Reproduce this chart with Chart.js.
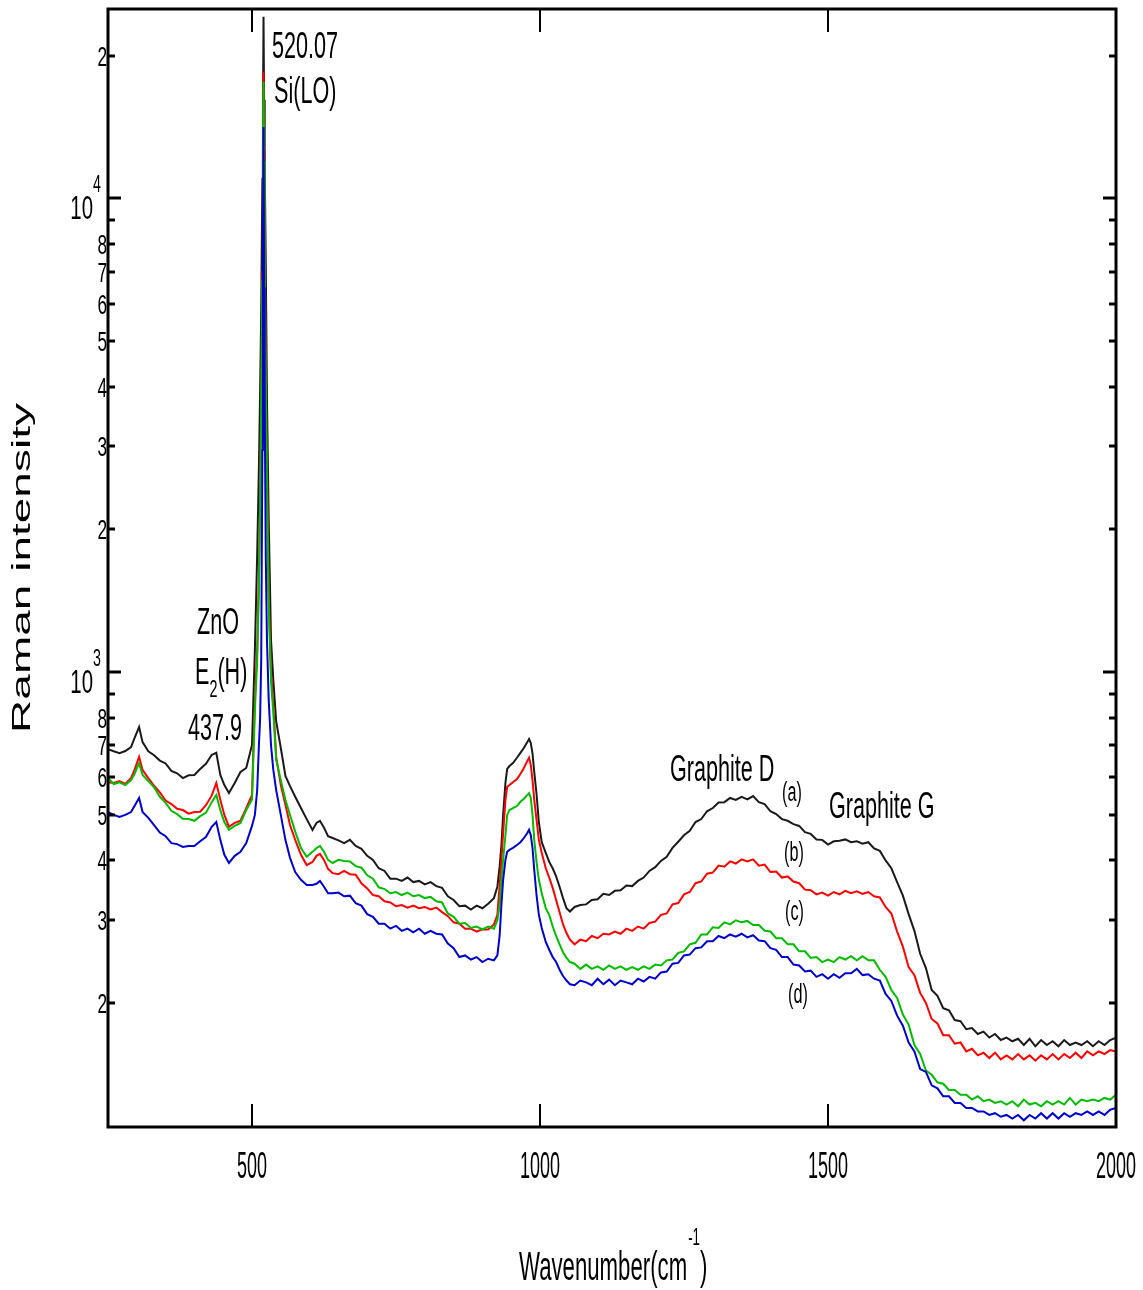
<!DOCTYPE html>
<html>
<head>
<meta charset="utf-8">
<title>Raman spectra</title>
<script src="https://cdn.jsdelivr.net/npm/chart.js@4.4.1/dist/chart.umd.min.js"></script>
<style>
  html, body { margin: 0; padding: 0; background: #fff; }
  canvas { display: block; }
</style>
</head>
<body>
<canvas id="ramanChart" width="1143" height="1290"></canvas>
<script>
// wavenumber grid (cm-1), denser around the Si line and the 950-1000 band
const wavenumber = [
  250,260,270,280,290,296,304,310,
  320,330,340,350,360,370,380,390,400,410,420,430,
  438,445,452,
  460,470,480,490,500,
  505,509,512,514,516,518,519,520,521,522,524,526,529,533,537,542,
  550,558,566,575,585,595,
  605,612,618,625,632,
  640,650,660,670,680,690,700,710,720,730,740,750,760,770,780,790,800,810,820,830,840,850,860,870,880,890,900,910,920,
  926,930,933,936,940,943,947,953,960,966,972,978,981,984,987,990,994,998,1003,
  1010,1016,1022,1028,1034,1040,1046,1052,
  1060,1070,1080,1090,1100,1110,1120,1130,1140,1150,
  1160,1170,1180,1190,1200,1210,1220,1230,1240,1250,
  1260,1270,1280,1290,1300,1310,1320,1330,1340,1350,
  1360,1370,1380,1390,1400,1410,1420,1430,1440,1450,
  1460,1470,1480,1490,1500,1510,1520,1530,1540,1550,
  1560,1570,1580,1590,1600,1610,1620,1630,1640,1650,
  1660,1670,1680,1690,1700,1710,1720,1730,1740,1750,
  1760,1770,1780,1790,1800,1810,1820,1830,1840,1850,
  1860,1870,1880,1890,1900,1910,1920,1930,1940,1950,
  1960,1970,1980,1990,2000
];

// sample (a)
const sampleA = [
  687,680,674,681,694,725,765,711,
  680,667,650,641,618,611,597,605,606,624,640,668,
  675,606,577,
  555,583,615,627,701,
  1113,1770,2710,3850,5815,10990,14655,24190,16160,12100,7060,3754,2100,1169,962,786,
  691,603,574,545,516,489,
  464,480,485,469,450,
  446,441,435,442,429,423,409,401,385,380,366,366,362,368,360,362,356,360,353,350,336,330,320,321,315,321,317,324,333,
  352,389,431,499,583,624,633,642,659,675,691,711,722,708,673,615,552,482,437,
  415,397,385,370,352,333,317,312,
  319,322,323,330,331,340,338,345,346,354,
  353,362,368,380,387,399,407,425,438,452,
  462,482,489,508,516,530,531,542,537,545,
  538,547,531,526,508,501,489,485,477,473,
  459,455,443,442,432,439,440,443,437,439,
  434,437,424,419,400,385,360,337,308,284,
  254,237,213,207,195,193,184,183,176,177,
  172,174,169,172,167,169,166,168,163,168,
  162,167,163,166,162,167,163,165,163,166,
  162,166,163,167,169
];

// sample (b)
const sampleB = [
  585,583,588,580,597,621,662,621,
  597,575,557,535,526,514,511,502,506,507,523,548,
  583,537,499,
  471,480,485,516,550,
  873,1113,1600,2308,3754,7000,12667,18510,12667,8000,4200,2700,1450,1000,850,662,
  577,524,475,442,411,391,
  397,409,413,401,384,
  376,374,380,374,373,358,349,338,336,328,326,320,322,318,321,317,319,315,318,311,305,296,294,287,287,283,286,286,293,
  307,355,401,457,537,572,577,585,594,609,627,649,659,636,591,537,487,442,415,
  385,368,350,330,311,293,281,272,
  266,272,270,277,274,280,279,283,280,287,
  284,290,287,295,297,307,309,323,325,339,
  343,358,361,375,377,390,388,398,394,402,
  398,402,390,392,378,379,368,370,361,358,
  347,346,339,342,337,343,339,345,341,344,
  340,343,336,334,319,309,283,263,238,229,
  210,200,185,181,171,171,164,165,158,160,
  155,157,153,157,152,155,152,156,152,155,
  151,155,152,156,152,156,153,157,153,158,
  155,158,156,159,158
];

// sample (c)
const sampleC = [
  597,580,585,577,591,609,642,606,
  588,571,545,529,509,501,490,489,485,496,504,531,
  550,511,482,
  464,473,480,511,537,
  830,1060,1500,2200,3600,6700,12000,17640,12000,7600,4000,2550,1380,960,820,652,
  591,537,499,460,425,407,
  417,425,429,417,401,
  395,401,399,398,389,386,372,366,351,348,341,343,338,342,336,338,333,335,328,326,309,304,294,295,288,290,286,290,287,
  299,322,364,401,452,499,511,516,521,532,540,550,555,542,499,442,397,364,341,
  317,307,290,277,266,256,249,244,
  242,236,241,236,239,235,240,236,239,235,
  238,235,239,236,241,240,246,247,255,257,
  266,268,279,279,289,288,296,293,299,296,
  298,292,292,284,283,274,274,266,266,257,
  257,249,250,244,247,244,250,247,251,246,
  251,246,246,235,227,213,205,189,180,163,
  156,144,141,136,135,131,131,128,128,125,
  127,124,125,123,124,122,124,121,125,122,
  123,121,124,122,124,122,126,122,125,124,
  125,124,126,125,128
];

// sample (d)
const sampleD = [
  506,499,494,499,506,521,542,506,
  492,475,458,450,435,433,427,429,429,439,448,471,
  482,442,411,
  395,409,417,435,473,
  499,563,701,792,1060,2944,7789,14164,6500,3754,1724,1169,873,701,621,563,
  499,442,405,378,364,355,
  355,357,362,352,341,
  341,342,336,337,325,321,308,304,294,294,287,291,284,287,282,287,280,284,280,279,267,261,250,252,247,250,244,248,246,
  252,278,322,364,401,417,421,425,431,437,446,457,464,452,425,382,338,307,288,
  269,259,250,244,235,228,223,219,
  218,223,221,218,225,219,224,218,223,221,
  219,225,222,227,225,232,233,242,243,252,
  253,261,262,270,270,277,274,279,276,280,
  275,278,271,270,261,259,250,250,241,240,
  233,234,227,230,225,230,226,231,231,236,
  229,230,225,223,209,202,188,179,165,158,
  145,143,134,132,127,127,123,123,120,120,
  118,118,116,117,115,116,114,116,113,116,
  114,117,114,117,114,117,115,117,116,118,
  116,118,116,119,120
];

const xTickValues = [500, 1000, 1500, 2000];
const yMinorTicks = [200, 300, 400, 500, 600, 700, 800, 900, 2000, 3000, 4000, 5000, 6000, 7000, 8000, 9000, 20000];
const yMajorTicks = [1000, 10000];

const FONT = '"Liberation Sans", Arial, Helvetica, sans-serif';

function pts(values) {
  return wavenumber.map((w, i) => ({ x: w, y: values[i] }));
}

// narrow-looking text: normal glyphs squeezed horizontally
function drawText(ctx, str, x, y, size, squeeze, align) {
  ctx.save();
  ctx.font = size + 'px ' + FONT;
  ctx.textAlign = align || 'left';
  ctx.textBaseline = 'alphabetic';
  ctx.translate(x, y);
  ctx.scale(squeeze, 1);
  ctx.fillText(str, 0, 0);
  ctx.restore();
}

function textWidth(ctx, str, size, squeeze) {
  ctx.save();
  ctx.font = size + 'px ' + FONT;
  const w = ctx.measureText(str).width * squeeze;
  ctx.restore();
  return w;
}

function seg(ctx, x1, y1, x2, y2) {
  ctx.beginPath();
  ctx.moveTo(x1, y1);
  ctx.lineTo(x2, y2);
  ctx.stroke();
}

const axesAndLabels = {
  id: 'axesAndLabels',
  afterDraw(chart) {
    const { ctx, chartArea: a } = chart;
    const xs = chart.scales.x, ys = chart.scales.y;
    ctx.save();
    ctx.strokeStyle = '#000';
    ctx.fillStyle = '#000';

    // box
    ctx.lineWidth = 3;
    ctx.strokeRect(a.left, a.top, a.right - a.left, a.bottom - a.top);

    // x ticks, top and bottom, pointing inwards
    ctx.lineWidth = 2;
    xTickValues.forEach(v => {
      const px = Math.round(xs.getPixelForValue(v));
      if (v < xs.max) {
        seg(ctx, px, a.top, px, a.top + 23);
        seg(ctx, px, a.bottom, px, a.bottom - 23);
      }
      drawText(ctx, String(v), px, 1178, 36, 0.5, 'center');
    });

    // y ticks, left and right
    ctx.lineWidth = 3;
    yMinorTicks.concat(yMajorTicks).forEach(v => {
      const py = Math.round(ys.getPixelForValue(v));
      const len = yMajorTicks.includes(v) ? 13 : 7;
      seg(ctx, a.left, py, a.left + len, py);
      seg(ctx, a.right, py, a.right - len, py);
    });
    yMinorTicks.forEach(v => {
      if (v === 900 || v === 9000) return;
      const py = ys.getPixelForValue(v);
      const mant = Math.round(v / Math.pow(10, Math.floor(Math.log10(v))));
      drawText(ctx, String(mant), a.left - 1, py + 10, 27, 0.64, 'right');
    });
    yMajorTicks.forEach(v => {
      const py = ys.getPixelForValue(v);
      drawText(ctx, '10', a.left - 15, py + 21, 34, 0.6, 'right');
      drawText(ctx, String(Math.round(Math.log10(v))), a.left - 15, py - 6, 23, 0.62, 'left');
    });

    // axis titles
    let x0 = 519;
    drawText(ctx, 'Wavenumber(cm', x0, 1280, 40, 0.555);
    x0 += textWidth(ctx, 'Wavenumber(cm', 40, 0.555) + 1;
    drawText(ctx, '-1', x0, 1245, 24, 0.555);
    x0 += textWidth(ctx, '-1', 24, 0.555);
    drawText(ctx, ')', x0, 1280, 40, 0.555);

    ctx.save();
    ctx.translate(30, 568);
    ctx.rotate(-Math.PI / 2);
    ctx.scale(1.84, 1);
    ctx.font = '25px ' + FONT;
    ctx.textAlign = 'center';
    ctx.fillText('Raman intensity', 0, 0);
    ctx.restore();

    // peak annotations
    drawText(ctx, '520.07', 272, 58, 36, 0.6);
    drawText(ctx, 'Si(LO)', 274, 103, 36, 0.6);
    drawText(ctx, 'ZnO', 218, 634, 36, 0.6, 'center');
    let ex = 195;
    drawText(ctx, 'E', ex, 684, 36, 0.6);
    ex += textWidth(ctx, 'E', 36, 0.6);
    drawText(ctx, '2', ex, 697, 24, 0.6);
    ex += textWidth(ctx, '2', 24, 0.6);
    drawText(ctx, '(H)', ex, 684, 36, 0.6);
    drawText(ctx, '437.9', 188, 740, 36, 0.6);
    drawText(ctx, 'Graphite D', 670, 781, 36, 0.6);
    drawText(ctx, 'Graphite G', 829, 818, 36, 0.6);
    drawText(ctx, '(a)', 782, 801, 27, 0.6);
    drawText(ctx, '(b)', 784, 861, 27, 0.6);
    drawText(ctx, '(c)', 785, 920, 27, 0.6);
    drawText(ctx, '(d)', 788, 1003, 27, 0.6);

    ctx.restore();
  }
};

new Chart(document.getElementById('ramanChart'), {
  type: 'line',
  data: {
    datasets: [
      { label: '(a)', data: pts(sampleA), borderColor: '#1a1a1a', order: 3 },
      { label: '(b)', data: pts(sampleB), borderColor: '#ff0000', order: 2 },
      { label: '(c)', data: pts(sampleC), borderColor: '#00bb00', order: 1 },
      { label: '(d)', data: pts(sampleD), borderColor: '#0000cc', order: 0 }
    ]
  },
  options: {
    responsive: false,
    animation: false,
    layout: { padding: { left: 108, right: 27, top: 9, bottom: 163 } },
    elements: {
      line: { borderWidth: 2, tension: 0, fill: false },
      point: { radius: 0 }
    },
    scales: {
      x: { type: 'linear', min: 250, max: 2000, display: false },
      y: { type: 'logarithmic', min: 109.4, max: 25130, display: false }
    },
    plugins: {
      legend: { display: false },
      tooltip: { enabled: false }
    }
  },
  plugins: [axesAndLabels]
});
</script>
</body>
</html>
